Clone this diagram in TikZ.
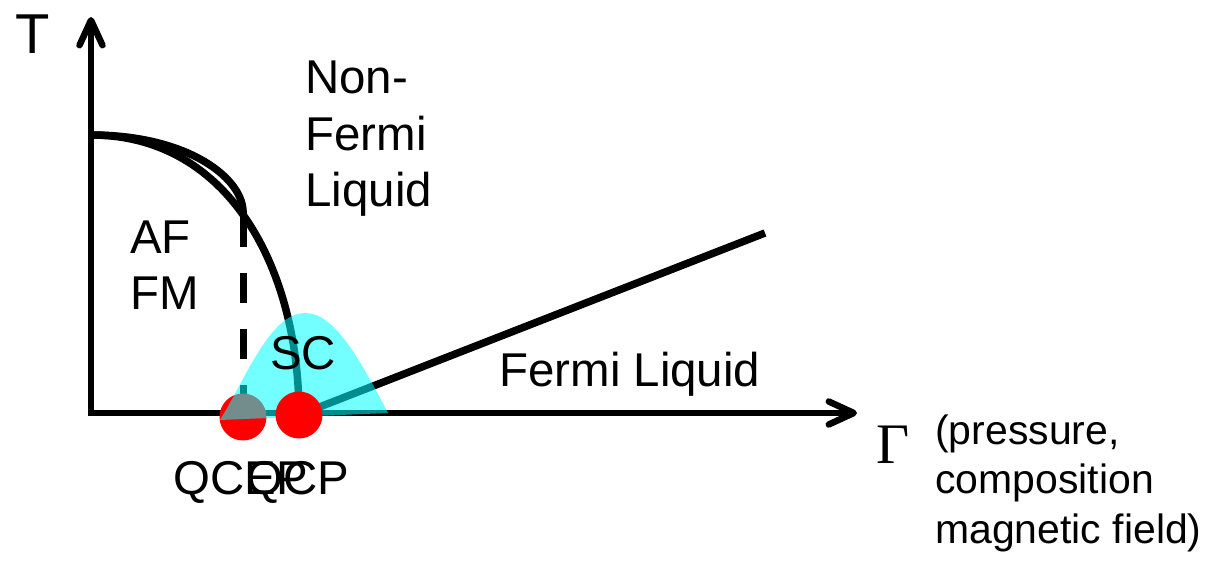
\documentclass[tikz,border=0pt]{standalone}
\usepackage{fontspec}
\setmainfont{Liberation Sans}
\newfontfamily\greekfont{Liberation Serif}
\usetikzlibrary{arrows.meta}
\definecolor{scfill}{RGB}{0,255,255}
\tikzset{
  axisline/.style={
    line width=0.13cm,
    {Straight Barb[length=0.5cm,width=0.46cm,round]}-{Straight Barb[length=0.5cm,width=0.46cm,round]}
  },
  phaseline/.style={line width=0.15cm},
  critline/.style={line width=0.14cm, dash pattern=on 0.6cm off 0.52cm},
  qpoint/.style={circle, fill=red, minimum size=0.94cm, inner sep=0pt},
  scdome/.style={fill=scfill, fill opacity=0.55},
  biglabel/.style={font=\fontsize{27}{32.4}\selectfont, inner sep=0pt, align=left, anchor=base west},
  axislabel/.style={font=\fontsize{32}{38}\selectfont, inner sep=0pt, anchor=base west},
  smalllabel/.style={font=\fontsize{23.3}{27.9}\selectfont, inner sep=0pt, align=left, anchor=base west}
}

\begin{document}
\begin{tikzpicture}[x=0.02cm, y=-0.02cm]
\useasboundingbox (0,0) rectangle (1220,570);

\coordinate (origin) at (91,413);
\coordinate (tc) at (91,135);
\coordinate (qcep) at (243,417);
\coordinate (qcp) at (299,415);

\draw[axisline] (91,17) |- (857,413);

\draw[phaseline] (tc) .. controls (190,135) and (245,180) .. (243,214);
\draw[phaseline] (tc) .. controls (230,135) and (299,270) .. (qcp);
\draw[critline] (243,217) -- (qcep);
\draw[phaseline] (qcp) -- (765,233);

\node[qpoint] (qcepdot) at (qcep) {};
\fill[scdome] (220,420) .. controls (245,380) and (270,313) .. (305,313)
  .. controls (335,313) and (360,360) .. (388,413) -- cycle;
\node[qpoint] (qcpdot) at (qcp) {};

\node[axislabel] (tlabel) at (15,54) {T};
\node[axislabel, font=\fontsize{32.6}{38}\greekfont] (gamma) at (876,463) {Γ};
\node[biglabel] (nfl) at (305,207) {Non-\\Fermi\\Liquid};
\node[biglabel] (afm) at (130,310) {AF\\FM};
\node[biglabel] (sc) at (270,370) {SC};
\node[biglabel] (fl) at (499,387) {Fermi Liquid};
\node[biglabel] (qceplabel) at (173,495) {QCEP};
\node[biglabel] (qcplabel) at (246,495) {QCP};
\node[smalllabel] (params) at (935,543) {(pressure,\\composition\\magnetic field)};
\end{tikzpicture}
\end{document}
